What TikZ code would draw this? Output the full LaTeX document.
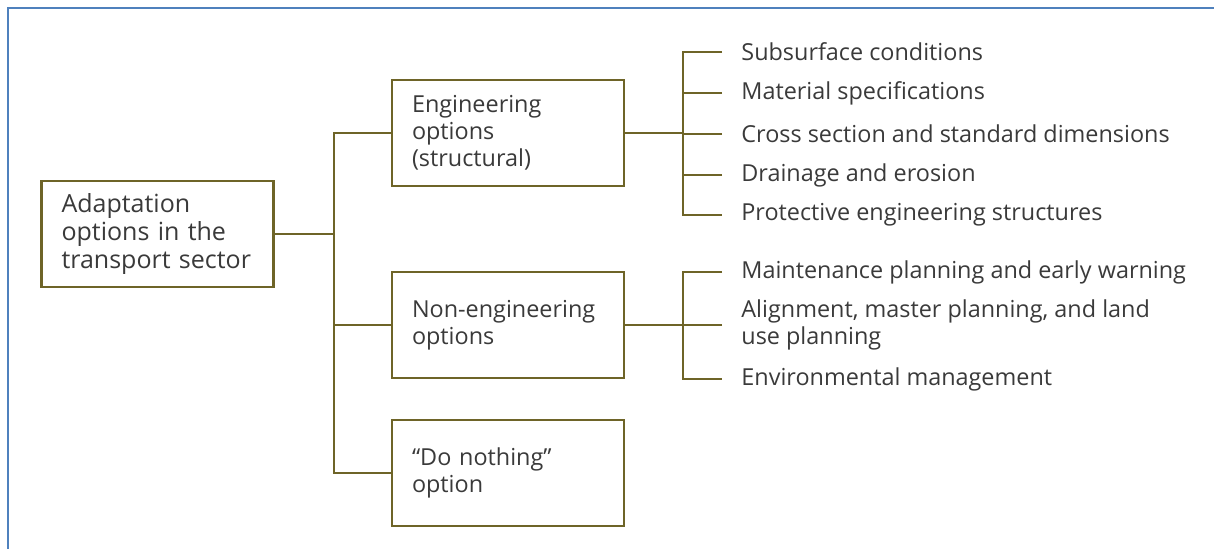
\documentclass[tikz,border=0pt]{standalone}
\usepackage{fontspec}
\setmainfont{Open Sans}
\usetikzlibrary{positioning,calc}
\definecolor{olive}{HTML}{6E6428}
\definecolor{frameblue}{HTML}{4F81BD}
\definecolor{txt}{HTML}{3A3A3A}
\begin{document}
\begin{tikzpicture}[x=0.5pt,y=-0.5pt,font=\fontsize{11.7}{13.5}\selectfont,text=txt]
\tikzstyle{box}=[draw=olive,line width=1.2pt,fill=white,minimum height=53pt,text width=96pt,inner xsep=10pt,align=left]
\tikzstyle{leaf}=[anchor=west,inner xsep=9.5pt,align=left]
\tikzstyle{ln}=[draw=olive,line width=1pt]
\useasboundingbox (0,0) rectangle (1214,549);
\draw[frameblue,line width=1.2pt] (8,549) -- (8,8) -- (1214,8);
% left part
\node[box,font=\fontsize{12.5}{14}\selectfont] (main) at (157.5,234) {Adaptation\\ options in the\\ transport sector};
\node[box] (eng) at (508,133) {Engineering\\ options\\ (structural)};
\node[box] (non) at (508,325) {Non-engineering\\ options};
\node[box] (none) at (508,473) {``Do nothing''\\ option};
\coordinate (tr) at (334,0);
\draw[ln] (main.east) -- (main.east -| tr);
\draw[ln] (eng.west) -| (tr |- none.west) -- (none.west);
\draw[ln] (non.west) -- (non.west -| tr);
% right part
\node[leaf] (s1) at (722,52) {Subsurface conditions};
\node[leaf] (s2) at (722,93) {Material specifications};
\node[leaf] (s3) at (722,134) {Cross section and standard dimensions};
\node[leaf] (s4) at (722,175) {Drainage and erosion};
\node[leaf] (s5) at (722,215) {Protective engineering structures};
\node[leaf] (n1) at (722,272) {Maintenance planning and early warning};
\node[leaf] (n2) at (722,325) {Alignment, master planning, and land\\ use planning};
\node[leaf] (n3) at (722,379) {Environmental management};
\coordinate (tr2) at (683,0);
\draw[ln] (eng.east) -- (eng.east -| tr2);
\draw[ln] (s1.west) -| (tr2 |- s5.west) -- (s5.west);
\foreach \n in {s2,s3,s4} \draw[ln] (\n.west) -- (\n.west -| tr2);
\draw[ln] (non.east) -- (non.east -| tr2);
\draw[ln] (n1.west) -| (tr2 |- n3.west) -- (n3.west);
\draw[ln] (n2.west) -- (n2.west -| tr2);
\end{tikzpicture}
\end{document}
